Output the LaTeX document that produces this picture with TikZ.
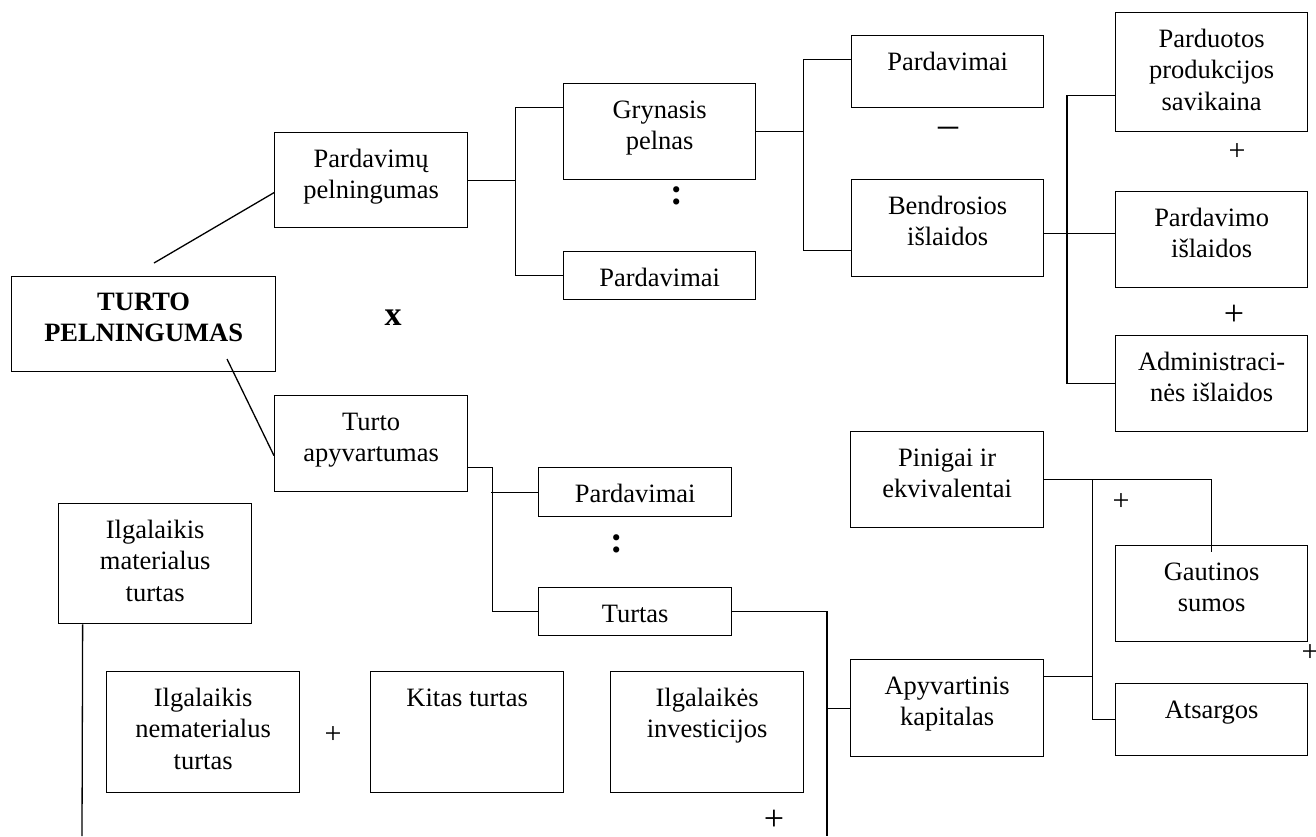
\documentclass[tikz,border=0pt]{standalone}
\usepackage{fontspec}
\setmainfont{Liberation Serif}
\usetikzlibrary{calc}
\newcommand\fs{\fontsize{26.5}{31.7}\selectfont}
\newcommand\st{\rule{0pt}{20pt}}
\tikzset{
  bx/.style={draw, line width=1.3pt, inner sep=0pt, anchor=north west},
  tx/.style={anchor=north, inner sep=0pt, align=center, font=\fs},
  ln/.style={line width=1.3pt},
  sym/.style={inner sep=0pt, anchor=center},
}
\newcommand\bbox[6]{%
  \node[bx, minimum width={#4-#2}, minimum height={#5-#3}] (#1) at (#2,#3) {};
  \node[tx] (#1t) at ($(#1.north)+(0,15)$) {\st #6};}
\begin{document}
\begin{tikzpicture}[x=1pt,y=-1pt]
\useasboundingbox (0,0) rectangle (1316,836);
% boxes
\node[bx, minimum width=264, minimum height=95] (tp) at (11,276) {};
\node[tx, font=\fs\bfseries] (tpt) at ($(tp.north)+(0,14)$) {\st TURTO\\PELNINGUMAS};
\bbox{pp}{274}{132}{467}{227}{Pardavimų\\pelningumas}
\bbox{ta}{274}{395}{467}{491}{Turto\\apyvartumas}
\bbox{gp}{563}{83}{755}{179}{Grynasis\\pelnas}
\bbox{pa1}{563}{251}{755}{299}{Pardavimai}
\bbox{pa2}{851}{35}{1043}{107}{Pardavimai}
\bbox{bi}{851}{179}{1043}{276}{Bendrosios\\išlaidos}
\bbox{pps}{1115}{12}{1307}{131}{Parduotos\\produkcijos\\savikaina}
\bbox{pi}{1115}{191}{1307}{287}{Pardavimo\\išlaidos}
\bbox{ai}{1115}{335}{1307}{431}{Administraci-\\nės išlaidos}
\bbox{pe}{850}{431}{1043}{527}{Pinigai ir\\ekvivalentai}
\bbox{gs}{1115}{545}{1307}{641}{Gautinos\\sumos}
\bbox{ak}{850}{659}{1043}{756}{Apyvartinis\\kapitalas}
\bbox{at}{1115}{683}{1307}{755}{Atsargos}
\bbox{pa3}{538}{467}{731}{516}{Pardavimai}
\bbox{tu}{538}{587}{731}{635}{Turtas}
\bbox{imt}{58}{503}{251}{623}{Ilgalaikis\\materialus\\turtas}
\bbox{int}{106}{671}{299}{792}{Ilgalaikis\\nematerialus\\turtas}
\bbox{kt}{370}{671}{563}{792}{Kitas turtas}
\bbox{ii}{610}{671}{803}{792}{Ilgalaikės\\investicijos}
% free ends
\coordinate (c1) at (154,263);
\coordinate (c2) at (227,359);
\coordinate (b1) at (827,836);
\coordinate (b2) at (82,836);
% connectors
\draw[ln] (c1) -- ([yshift=-12.5pt]pp.west);
\draw[ln] (c2) -- ([yshift=-12pt]ta.west);
\draw[ln] (pp.east) -- ++(47,0) coordinate (j1);
\draw[ln] ([yshift=24pt]gp.west) -| (j1) |- (pa1.west);
\draw[ln] (gp.east) -- ++(47,0) coordinate (j2);
\draw[ln] ([yshift=12pt]pa2.west) -| (j2) |- ([yshift=-22.5pt]bi.west);
\draw[ln] ([yshift=-5.5pt]bi.east) -- ([yshift=6pt]pi.west);
\draw[ln] ([yshift=-23.5pt]pps.west) -- ++(-48,0) |- (ai.west);
\draw[ln] ([yshift=-24pt]ta.east) -- ++(24,0) |- (tu.west);
\draw[ln] (pa3.west) -- ++(-47,0);
\draw[ln] (tu.east) -| (b1);
\draw[ln] (ak.west) -- ++(-23,0);
\draw[ln] ([xshift=-72.5pt]imt.south) -- (b2);
\draw[ln] (pe.east) -| ([yshift=-7pt]gs.north);
\draw[ln] ([xshift=48pt]pe.east) |- (at.west);
\draw[ln] ([yshift=31.5pt]ak.east) -- ++(48,0);
% symbols
\node[sym, font=\fontsize{34}{34}\selectfont\bfseries] (sx) at (393,318) {x};
\node[sym, font=\fontsize{38}{38}\selectfont\bfseries] (col1) at (677,196) {:};
\node[sym, font=\fontsize{38}{38}\selectfont\bfseries] (col2) at (617,544) {:};
\node[sym, font=\fontsize{40}{40}\selectfont] (mn) at (948,132) {–};
\node[sym, font=\fontsize{30}{30}\selectfont] (p1) at (1237,152) {+};
\node[sym, font=\fontsize{36}{36}\selectfont] (p2) at (1234,315) {+};
\node[sym, font=\fontsize{30}{30}\selectfont] (p3) at (1121,502) {+};
\node[sym, font=\fontsize{30}{30}\selectfont] (p4) at (1310,653) {+};
\node[sym, font=\fontsize{30}{30}\selectfont] (p5) at (333,735) {+};
\node[sym, font=\fontsize{36}{36}\selectfont] (p6) at (774,820) {+};
\end{tikzpicture}
\end{document}
